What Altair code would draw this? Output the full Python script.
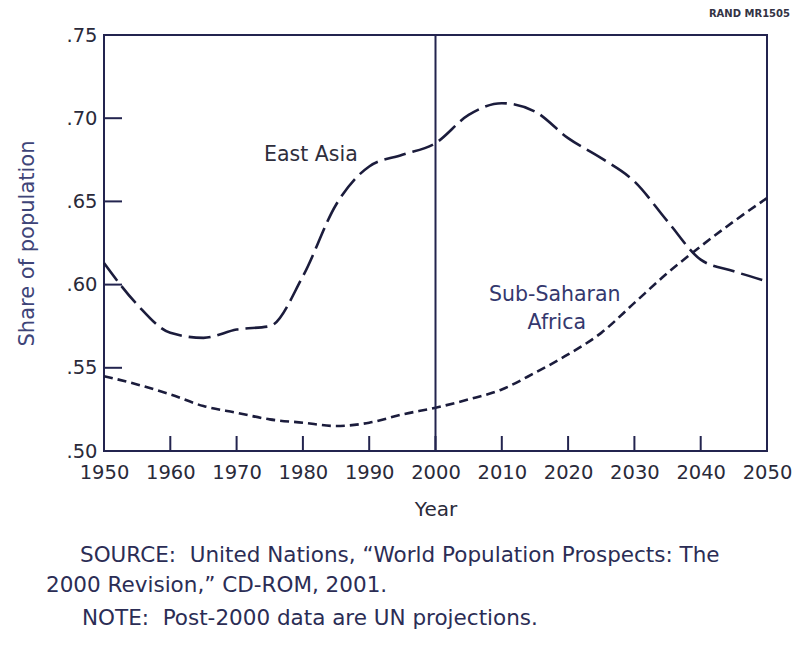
import altair as alt
import pandas as pd

# ---- data ----
years = [1950, 1955, 1960, 1965, 1970, 1975, 1980, 1985, 1990, 1995, 2000,
         2005, 2010, 2015, 2020, 2025, 2030, 2035, 2040, 2045, 2050]
east_asia = [0.613, 0.588, 0.571, 0.568, 0.573, 0.575, 0.605, 0.648, 0.671, 0.678, 0.685,
             0.702, 0.709, 0.704, 0.688, 0.676, 0.662, 0.638, 0.615, 0.608, 0.602]
sub_saharan = [0.545, 0.540, 0.534, 0.527, 0.523, 0.519, 0.517, 0.515, 0.517, 0.522, 0.526,
               0.531, 0.537, 0.547, 0.558, 0.571, 0.589, 0.607, 0.623, 0.638, 0.652]
regions = ["East Asia", "Sub-Saharan Africa"]
x_ticks = [1950, 1960, 1970, 1980, 1990, 2000, 2010, 2020, 2030, 2040, 2050]
y_ticks = [0.50, 0.55, 0.60, 0.65, 0.70, 0.75]
divider_year = [2000]

label_text = ["East Asia", "Sub-Saharan", "Africa"]
label_year = [1981.2, 2018.0, 2018.3]
label_share = [0.678, 0.594, 0.577]

NB = "\u00a0"
note_lines = [
    "SOURCE:" + NB + NB + "United Nations, \u201cWorld Population Prospects: The",
    "2000 Revision,\u201d CD-ROM, 2001.",
    "NOTE:" + NB + NB + "Post-2000 data are UN projections.",
]
badge = "RAND MR1505"

# ---- styling ----
W, H = 663, 416
FONT = "DejaVu Sans"
NAVY = "#23244f"
LINE = "#1b1c3c"
TEXT = "#2a2a3a"

df = pd.DataFrame({
    "Year": years * 2,
    "Share": east_asia + sub_saharan,
    "Region": [regions[0]] * len(years) + [regions[1]] * len(years),
})

xscale = alt.Scale(domain=[1950, 2050], nice=False, zero=False)
yscale = alt.Scale(domain=[0.50, 0.75], nice=False, zero=False)

lines = alt.Chart(df).mark_line(strokeWidth=2.6, interpolate="monotone", color=LINE).encode(
    x=alt.X("Year:Q", scale=xscale,
            axis=alt.Axis(values=x_ticks, format="d", title="Year", ticks=False, domain=False,
                          grid=False, labelFlush=False, labelFont=FONT, labelFontSize=19.5,
                          labelColor=TEXT, labelPadding=12, titleFont=FONT, titleFontSize=20,
                          titleFontWeight="normal", titleColor=TEXT, titlePadding=18)),
    y=alt.Y("Share:Q", scale=yscale,
            axis=alt.Axis(values=y_ticks, labelExpr="replace(format(datum.value, '.2f'), '0.', '.')",
                          title="Share of population", ticks=False, domain=False, grid=False,
                          labelFont=FONT, labelFontSize=19.5, labelColor=TEXT, labelPadding=7,
                          titleFont=FONT, titleFontSize=21, titleFontWeight="normal",
                          titleColor="#3e4478", titlePadding=28)),
    strokeDash=alt.StrokeDash("Region:N",
                              scale=alt.Scale(domain=regions, range=[[22, 7], [9, 5]]),
                              legend=None),
)

xtick_df = pd.DataFrame({"Year": x_ticks[1:-1]})
xt = alt.Chart(xtick_df).mark_rule(color=NAVY, strokeWidth=2).encode(
    x=alt.X("Year:Q", scale=xscale), y=alt.value(H), y2=alt.value(H - 15))

ytick_df = pd.DataFrame({"Share": y_ticks[1:-1]})
yt = alt.Chart(ytick_df).mark_rule(color=NAVY, strokeWidth=2).encode(
    y=alt.Y("Share:Q", scale=yscale), x=alt.value(0), x2=alt.value(18))

divider = alt.Chart(pd.DataFrame({"Year": divider_year})).mark_rule(color=NAVY, strokeWidth=2).encode(
    x=alt.X("Year:Q", scale=xscale))

labels_df = pd.DataFrame({"Year": label_year, "Share": label_share, "text": label_text,
                          "c": ["#2e2e3c", "#34386e", "#34386e"]})
labels = alt.Chart(labels_df).mark_text(font=FONT, fontSize=20.5, align="center", baseline="middle").encode(
    x=alt.X("Year:Q", scale=xscale), y=alt.Y("Share:Q", scale=yscale),
    text="text:N", color=alt.Color("c:N", scale=None))

def note(txt, x, y, size=21.5, weight="normal", align="left", color="#2b2d55"):
    return alt.Chart(pd.DataFrame({"t": [txt]})).mark_text(
        font=FONT, fontSize=size, fontWeight=weight, align=align, baseline="middle", color=color
    ).encode(text="t:N", x=alt.value(x), y=alt.value(y))

notes = [
    note(note_lines[0], -24, 521),
    note(note_lines[1], -58, 551),
    note(note_lines[2], -22, 584),
    note(badge, 686, -21, size=10, weight="bold", align="right", color="#333344"),
]

chart = alt.layer(lines, xt, yt, divider, labels, *notes).properties(
    width=W, height=H,
    autosize=alt.AutoSizeParams(type="none"),
    padding={"left": 96, "top": 27, "right": 33, "bottom": 188},
    background="white",
).configure_view(stroke=NAVY, strokeWidth=2)

chart.save("out.html", embed_options={"renderer": "svg", "actions": False})
